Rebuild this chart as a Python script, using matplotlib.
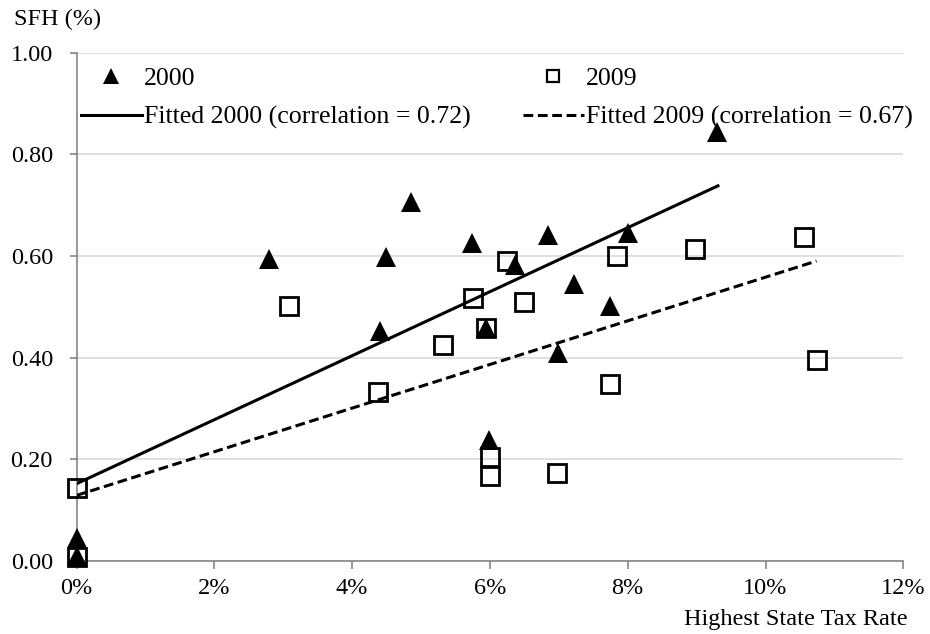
import matplotlib
matplotlib.use("Agg")
import matplotlib.pyplot as plt
from matplotlib.lines import Line2D
from matplotlib.ticker import FuncFormatter, MultipleLocator

plt.rcParams['font.family'] = ['Liberation Serif', 'DejaVu Serif']

# 2000 observations (tax rate in %, SFH share)
rate_2000 = [0.0, 0.0, 2.80, 4.40, 4.49, 4.85, 5.74, 6.36, 5.94, 6.84, 7.22, 6.99, 7.74, 8.00, 5.99, 9.29]
sfh_2000 = [0.045, 0.010, 0.595, 0.453, 0.597, 0.707, 0.625, 0.582, 0.458, 0.641, 0.545, 0.409, 0.501, 0.645, 0.238, 0.844]

# 2009 observations
rate_2009 = [0.0, 0.0, 3.09, 4.38, 5.32, 5.75, 6.25, 5.94, 6.50, 6.00, 6.00, 6.98, 7.85, 7.75, 8.98, 10.56, 10.75]
sfh_2009 = [0.143, 0.008, 0.502, 0.333, 0.425, 0.517, 0.591, 0.458, 0.509, 0.204, 0.167, 0.173, 0.599, 0.348, 0.614, 0.637, 0.395]

# fitted lines (end points)
fit_2000_x = [0.0, 9.31]
fit_2000_y = [0.152, 0.738]
fit_2009_x = [0.0, 10.74]
fit_2009_y = [0.129, 0.590]

FS = 17.5
LEG_FS = 18.6
GRID = "#d9d9d9"
AXIS = "#868686"
DASH = (3.2, 1.5)

fig = plt.figure(figsize=(9.3, 6.34), dpi=100)
ax = fig.add_axes([76.5 / 930, 1 - 561 / 634, (903.3 - 76.5) / 930, (561 - 52.6) / 634])

ax.plot(rate_2000, sfh_2000, linestyle="none", marker="^", markersize=15,
        color="black", markeredgewidth=0, clip_on=False, zorder=3)
ax.plot(rate_2009, sfh_2009, linestyle="none", marker="s", markersize=12.5,
        markerfacecolor="none", markeredgecolor="black", markeredgewidth=2,
        clip_on=False, zorder=3)
ax.plot(fit_2000_x, fit_2000_y, color="black", linewidth=2.2, zorder=4)
ax.plot(fit_2009_x, fit_2009_y, color="black", linewidth=2.2,
        dashes=DASH, zorder=4)

ax.set_xlim(0, 12)
ax.set_ylim(0, 1.0)
ax.xaxis.set_major_locator(MultipleLocator(2))
ax.yaxis.set_major_locator(MultipleLocator(0.2))
ax.xaxis.set_major_formatter(FuncFormatter(lambda v, p: f"{v:.0f}%"))
ax.yaxis.set_major_formatter(FuncFormatter(lambda v, p: f"{v:.2f}"))

ax.grid(axis="y", color=GRID, linewidth=1.2, zorder=0)
ax.set_axisbelow(True)
for side in ["top", "right"]:
    ax.spines[side].set_visible(False)
for side in ["left", "bottom"]:
    ax.spines[side].set_color(AXIS)
    ax.spines[side].set_linewidth(1.2)

ax.tick_params(axis="x", direction="out", length=6, width=1.2, color=AXIS,
               labelsize=FS, pad=6)
ax.tick_params(axis="y", direction="out", length=5, width=1.2, color=AXIS,
               labelsize=FS, pad=12)

fig.text(14 / 930, 1 - 19 / 634, "SFH (%)", fontsize=FS, ha="left", va="center")
fig.text(908 / 930, 1 - 620 / 634, "Highest State Tax Rate", fontsize=FS,
         ha="right", va="center")

# legend: row 1 markers, row 2 fitted lines
handles = [
    Line2D([], [], linestyle="none", marker="^", markersize=11.3, color="black",
           markeredgewidth=0),
    Line2D([], [], color="black", linewidth=2.2),
    Line2D([], [], linestyle="none", marker="s", markersize=8.5,
           markerfacecolor="none", markeredgecolor="black", markeredgewidth=1.6),
    Line2D([], [], color="black", linewidth=2.2, dashes=DASH),
]
labels = ["2000", "Fitted 2000 (correlation = 0.72)",
          "2009", "Fitted 2009 (correlation = 0.67)"]
fig.legend(handles, labels, ncol=2, loc="upper left",
           bbox_to_anchor=(80.7 / 930, 1 - 67 / 634), frameon=False,
           fontsize=LEG_FS, handlelength=2.36, handletextpad=0.1,
           columnspacing=2.0, labelspacing=0.6, borderpad=0, borderaxespad=0)

fig.savefig("out.png", dpi=100)
